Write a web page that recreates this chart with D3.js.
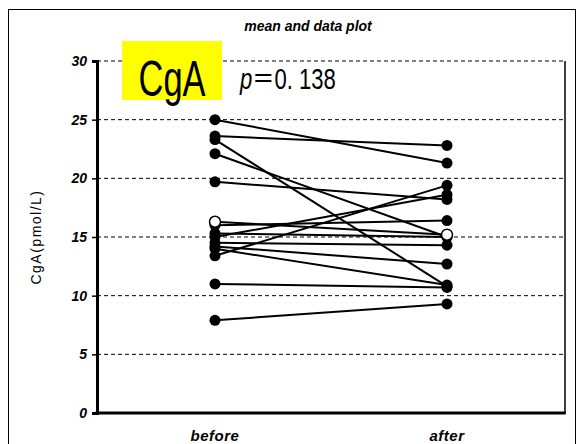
<!DOCTYPE html>
<html>
<head>
<meta charset="utf-8">
<script src="https://cdn.jsdelivr.net/npm/d3@7"></script>
<style>
  body { margin: 0; background: #fff; }
  svg { display: block; }
</style>
</head>
<body>
<svg id="chart" width="579" height="444"></svg>
<script>
// paired values, before -> after
var before = [25.0, 23.6, 23.3, 22.1, 19.7, 16.0, 15.3, 15.0, 14.5, 14.2, 14.0, 13.4, 11.0, 7.9];
var after  = [21.3, 22.8, 10.8, 15.0, 18.2, 16.4, 15.0, 18.6, 14.3, 12.7, 10.9, 19.4, 10.7, 9.3];
var meanValues = [16.3, 15.2];
var groups = ["before", "after"];
var yTicks = [0, 5, 10, 15, 20, 25, 30];

var svg = d3.select("#chart");
var plotLeft = 97, plotRight = 565, plotTop = 61, plotBottom = 413;
var boldItalic = "italic bold 14px 'Liberation Sans', Arial, sans-serif";

var x = d3.scalePoint().domain(groups).range([215, 447]);
var y = d3.scaleLinear().domain([0, 30]).range([plotBottom, plotTop]);

// outer frame
svg.append("rect")
    .attr("x", 8.5).attr("y", 9.5)
    .attr("width", 567).attr("height", 450)
    .attr("fill", "none").attr("stroke", "#000").attr("stroke-width", 1);

// title
svg.append("text")
    .attr("x", 308).attr("y", 31)
    .attr("text-anchor", "middle")
    .style("font", boldItalic)
    .text("mean and data plot");

// dashed grid lines
svg.selectAll("line.grid")
    .data(yTicks.filter(function(d){ return d > 0; }))
    .enter().append("line")
    .attr("class", "grid")
    .attr("x1", plotLeft).attr("x2", plotRight)
    .attr("y1", function(d){ return y(d); })
    .attr("y2", function(d){ return y(d); })
    .attr("stroke", "#000").attr("stroke-width", 1)
    .attr("stroke-dasharray", "4,3");

// right border
svg.append("line")
    .attr("x1", plotRight).attr("x2", plotRight)
    .attr("y1", plotTop).attr("y2", plotBottom)
    .attr("stroke", "#000").attr("stroke-width", 1.5);

// y axis
var yAxis = d3.axisLeft(y).tickValues(yTicks).tickSize(5).tickPadding(5);
var gy = svg.append("g").attr("transform", "translate(" + plotLeft + ",0)").call(yAxis);
gy.select(".domain").attr("stroke-width", 3);
gy.selectAll(".tick line").attr("stroke-width", 1.5);
gy.selectAll(".tick text")
    .style("font", boldItalic)
    .attr("fill", "#000");

// x axis
svg.append("line")
    .attr("x1", plotLeft - 1.5).attr("x2", plotRight + 0.75)
    .attr("y1", plotBottom).attr("y2", plotBottom)
    .attr("stroke", "#000").attr("stroke-width", 3);

svg.selectAll("text.xlab")
    .data(groups)
    .enter().append("text")
    .attr("class", "xlab")
    .attr("x", function(d){ return x(d); })
    .attr("y", 441)
    .attr("text-anchor", "middle")
    .style("font", "italic bold 15px 'Liberation Sans', Arial, sans-serif")
    .style("letter-spacing", "0.5px")
    .text(function(d){ return d; });

// y label
svg.append("text")
    .attr("transform", "translate(41," + ((plotTop + plotBottom) / 2) + ") rotate(-90)")
    .attr("text-anchor", "middle")
    .style("font", "14px 'Liberation Sans', Arial, sans-serif")
    .style("letter-spacing", "1.5px")
    .text("CgA(pmol/L)");

// marker label
svg.append("rect")
    .attr("x", 122).attr("y", 41)
    .attr("width", 100).attr("height", 59)
    .attr("fill", "#ffff00");
svg.append("text")
    .attr("transform", "translate(172,96) scale(0.82,1.2)")
    .attr("text-anchor", "middle")
    .style("font", "42px 'Liberation Sans Narrow', 'Liberation Sans', sans-serif")
    .text("CgA");

var pText = svg.append("text")
    .attr("transform", "translate(240,89) scale(0.85,1.1)")
    .style("font", "26px 'Liberation Sans Narrow', 'Liberation Sans', sans-serif");
pText.append("tspan").style("font-style", "italic").text("p");
pText.append("tspan").style("font-family", "'Noto Sans CJK JP', sans-serif").text("＝");
pText.append("tspan").text("0. 138");

// paired lines
var pairs = before.map(function(b, i){ return [b, after[i]]; });
svg.selectAll("line.pair")
    .data(pairs)
    .enter().append("line")
    .attr("class", "pair")
    .attr("x1", x("before")).attr("x2", x("after"))
    .attr("y1", function(d){ return y(d[0]); })
    .attr("y2", function(d){ return y(d[1]); })
    .attr("stroke", "#000").attr("stroke-width", 2);

// mean line
svg.append("line")
    .attr("x1", x("before")).attr("x2", x("after"))
    .attr("y1", y(meanValues[0])).attr("y2", y(meanValues[1]))
    .attr("stroke", "#000").attr("stroke-width", 2);

// data points
svg.selectAll("circle.b")
    .data(before)
    .enter().append("circle")
    .attr("cx", x("before"))
    .attr("cy", function(d){ return y(d); })
    .attr("r", 5.5)
    .attr("fill", "#000");
svg.selectAll("circle.a")
    .data(after)
    .enter().append("circle")
    .attr("cx", x("after"))
    .attr("cy", function(d){ return y(d); })
    .attr("r", 5.5)
    .attr("fill", "#000");

// mean points
svg.selectAll("circle.m")
    .data(meanValues)
    .enter().append("circle")
    .attr("cx", function(d, i){ return x(groups[i]); })
    .attr("cy", function(d){ return y(d); })
    .attr("r", 5.5)
    .attr("fill", "#fff")
    .attr("stroke", "#000").attr("stroke-width", 1.5);
</script>
</body>
</html>
